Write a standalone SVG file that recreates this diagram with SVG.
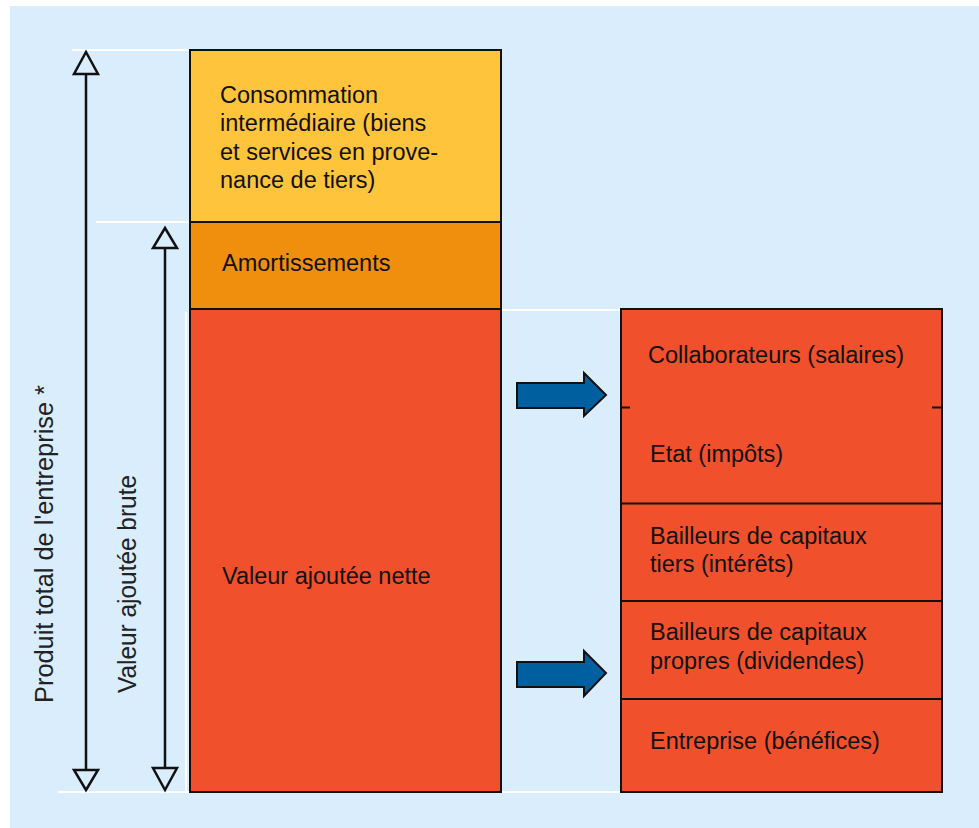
<svg xmlns="http://www.w3.org/2000/svg" width="979" height="828" viewBox="0 0 979 828">
<style>
.box{stroke:#111;stroke-width:2}
.t{font-family:"Liberation Sans",Arial,sans-serif;font-size:23.5px;fill:#111}
.r{font-family:"Liberation Sans",Arial,sans-serif;font-size:26px;fill:#222}
.ln{stroke:#111;stroke-width:2.5;fill:none}
.hd{stroke:#111;stroke-width:2.5;fill:#D9EDFD;stroke-linejoin:miter}
.wl{stroke:#fff;stroke-width:2}
.ar{fill:#005F9E;stroke:#111;stroke-width:2}
</style>
<rect x="0" y="0" width="979" height="828" fill="#fff"/>
<rect x="10" y="6" width="969" height="822" fill="#D9EDFD"/>
<g id="guides">
<line class="wl" x1="72" y1="50" x2="189" y2="50"/>
<line class="wl" x1="96" y1="222" x2="189" y2="222"/>
<line class="wl" x1="58" y1="792" x2="189" y2="792"/>
<line class="wl" x1="502" y1="310" x2="621" y2="310"/>
<line class="wl" x1="502" y1="792" x2="621" y2="792"/>
<line class="wl" x1="186" y1="312" x2="186" y2="792"/>
</g>
<g id="node-consommation">
<rect class="box" x="190" y="50" width="311" height="172" fill="#FDC43C"/>
<text class="t" x="220" y="102.5">Consommation</text>
<text class="t" x="220" y="131">intermédiaire (biens</text>
<text class="t" x="220" y="159.5">et services en prove-</text>
<text class="t" x="220" y="188">nance de tiers)</text>
</g>
<g id="node-amortissements">
<rect class="box" x="190" y="222" width="311" height="87" fill="#F08E0E"/>
<text class="t" x="222" y="271">Amortissements</text>
</g>
<g id="node-van">
<rect class="box" x="190" y="309" width="311" height="483" fill="#F0502B"/>
<text class="t" x="222" y="584">Valeur ajoutée nette</text>
</g>
<g id="node-repartition">
<rect class="box" x="621" y="309" width="321" height="483" fill="#F0502B"/>
<line class="box" x1="621" y1="407.5" x2="630" y2="407.5"/>
<line class="box" x1="932" y1="407.5" x2="942" y2="407.5"/>
<line class="box" x1="621" y1="503.5" x2="942" y2="503.5"/>
<line class="box" x1="621" y1="601" x2="942" y2="601"/>
<line class="box" x1="621" y1="699" x2="942" y2="699"/>
</g>
<g id="node-collaborateurs"><text class="t" x="648" y="363">Collaborateurs (salaires)</text></g>
<g id="node-etat"><text class="t" x="650" y="462">Etat (impôts)</text></g>
<g id="node-bailleurs-tiers"><text class="t" x="650" y="543.5">Bailleurs de capitaux</text><text class="t" x="650" y="572">tiers (intérêts)</text></g>
<g id="node-bailleurs-propres"><text class="t" x="650" y="640">Bailleurs de capitaux</text><text class="t" x="650" y="668.5">propres (dividendes)</text></g>
<g id="node-entreprise"><text class="t" x="650" y="748.5">Entreprise (bénéfices)</text></g>
<g id="node-produit-total">
<text class="r" x="53" y="703" transform="rotate(-90 53 703)" textLength="318" lengthAdjust="spacingAndGlyphs">Produit total de l'entreprise *</text>
</g>
<g id="node-vab">
<text class="r" x="136" y="693" transform="rotate(-90 136 693)" textLength="218" lengthAdjust="spacingAndGlyphs">Valeur ajoutée brute</text>
</g>
<g id="connectors">
<line class="ln" x1="86" y1="74" x2="86" y2="770"/>
<polygon class="hd" points="86,52 98,74 74,74"/>
<polygon class="hd" points="86,790 98,770 74,770"/>
<line class="ln" x1="165" y1="248" x2="165" y2="768"/>
<polygon class="hd" points="165,228 177,248 153,248"/>
<polygon class="hd" points="165,790 177,768 153,768"/>
<polygon class="ar" points="517,383 584,383 584,373 606,395 584,416 584,408 517,408"/>
<polygon class="ar" points="517,662 584,662 584,651 606,673 584,696 584,687 517,687"/>
</g>
</svg>
